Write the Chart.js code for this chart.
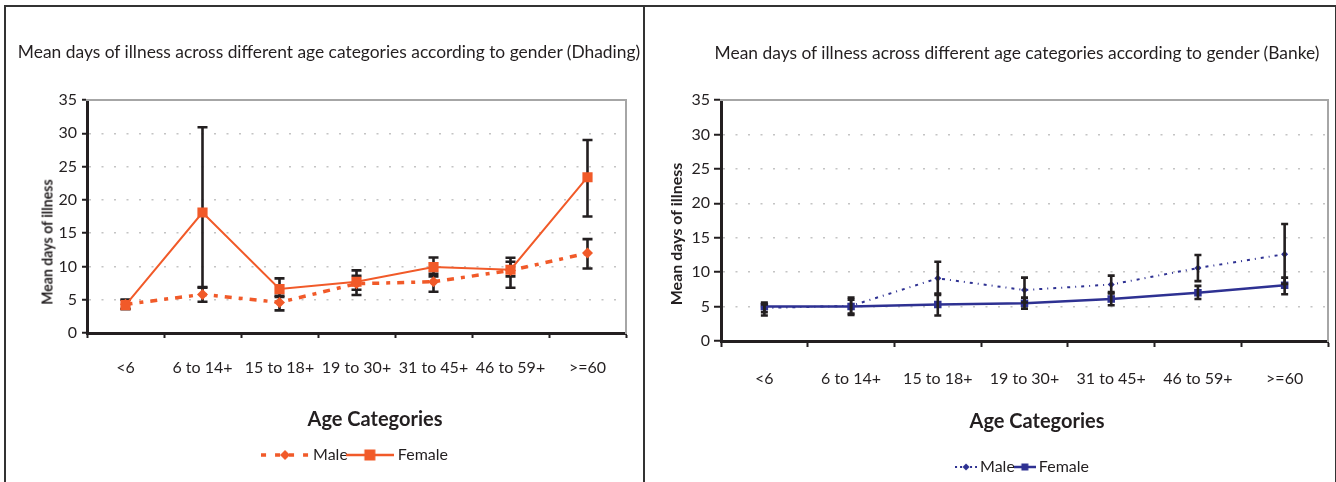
<!DOCTYPE html>
<html>
<head>
<meta charset="utf-8">
<script src="https://cdn.jsdelivr.net/npm/chart.js@4.4.1/dist/chart.umd.min.js"></script>
<style>
  html, body { margin: 0; padding: 0; background: #fff; }
  body { width: 1336px; height: 482px; position: relative; overflow: hidden;
         font-family: Lato, "Open Sans", sans-serif; color: #231f20; }
  .frame { position: absolute; left: 4px; top: 5px; width: 1329px; height: 500px;
           border: 2px solid #333; border-bottom: none; z-index: 5; pointer-events: none; }
  .divider { position: absolute; left: 643px; top: 5px; width: 2px; height: 480px;
             background: #333; z-index: 5; }
  canvas { position: absolute; top: 0; }
  .txt { position: absolute; white-space: nowrap; transform: translate(-50%, -50%); }
  .title { font-size: 17.4px; }
  .xtitle { font-size: 20px; font-weight: bold; }
  .ytitle { font-size: 16px; font-weight: bold; }
</style>
</head>
<body>
<div class="frame"></div>
<div class="divider"></div>

<canvas id="dhading" width="643" height="500" style="left:0;width:643px;height:500px"></canvas>
<canvas id="banke" width="689" height="500" style="left:645px;width:689px;height:500px"></canvas>

<div class="txt title" style="left:329px;top:51px">Mean days of illness across different age categories according to gender (Dhading)</div>
<div class="txt title" style="left:1017px;top:52px">Mean days of illness across different age categories according to gender (Banke)</div>
<div class="txt xtitle" style="left:375px;top:418px">Age Categories</div>
<div class="txt xtitle" style="left:1037px;top:420px">Age Categories</div>
<div class="txt ytitle" style="left:46px;top:242px;transform:translate(-50%,-50%) rotate(-90deg) scaleX(0.88)">Mean days of illness</div>
<div class="txt ytitle" style="left:675px;top:234px;transform:translate(-50%,-50%) rotate(-90deg)">Mean days of illness</div>

<script>
// Age groups on the x axis
const ageCategories = ['<6', '6 to 14+', '15 to 18+', '19 to 30+', '31 to 45+', '46 to 59+', '>=60'];
const yMin = 0, yMax = 35, yStep = 5;

// Dhading: mean days of illness and error-bar ends
const dhadingMale        = [4.3, 5.8, 4.6, 7.4, 7.7, 9.4, 12.0];
const dhadingMaleLow     = [3.6, 4.7, 3.4, 5.7, 6.2, 6.8, 9.7];
const dhadingMaleHigh    = [5.0, 6.9, 5.6, 8.6, 8.9, 10.7, 14.1];
const dhadingFemale      = [4.2, 18.1, 6.6, 7.7, 9.9, 9.5, 23.4];
const dhadingFemaleLow   = [3.6, 6.8, 5.4, 6.5, 8.5, 8.5, 17.5];
const dhadingFemaleHigh  = [5.0, 30.9, 8.2, 9.4, 11.35, 11.3, 29.0];

// Banke: mean days of illness and error-bar ends
const bankeMale          = [4.8, 5.1, 9.1, 7.4, 8.2, 10.6, 12.6];
const bankeMaleLow       = [3.7, 3.8, 6.7, 5.6, 6.9, 8.7, 8.3];
const bankeMaleHigh      = [5.3, 6.3, 11.5, 9.2, 9.5, 12.5, 17.0];
const bankeFemale        = [5.0, 5.0, 5.3, 5.5, 6.1, 7.0, 8.1];
const bankeFemaleLow     = [4.2, 4.0, 3.7, 4.7, 5.2, 6.1, 6.8];
const bankeFemaleHigh    = [5.6, 6.0, 6.9, 6.3, 7.1, 8.0, 9.2];

const ORANGE = '#f15a29';
const NAVY = '#2e3192';
const INK = '#231f20';
const GRID = '#c4c4c4';
const FRAME_GREY = '#a6a6a6';
const FONT = 'Lato';

// Vertical error bars with caps, placed through the chart's own scales
function errorBarPlugin(ranges, style) {
  function paint(chart) {
    const { ctx, scales: { x, y } } = chart;
    ctx.save();
    ctx.strokeStyle = style.color;
    ctx.lineWidth = style.width;
    ctx.setLineDash([]);
    ranges.forEach(r => {
      r.low.forEach((lo, i) => {
        const hi = r.high[i];
        if (lo == null || hi == null) return;
        const px = x.getPixelForValue(i);
        const yl = y.getPixelForValue(lo);
        const yh = y.getPixelForValue(hi);
        const h = style.cap / 2;
        ctx.beginPath();
        ctx.moveTo(px, yl); ctx.lineTo(px, yh);
        ctx.moveTo(px - h, yl); ctx.lineTo(px + h, yl);
        ctx.moveTo(px - h, yh); ctx.lineTo(px + h, yh);
        ctx.stroke();
      });
    });
    ctx.restore();
  }
  return {
    id: 'errorBars',
    beforeDatasetsDraw(chart) { if (!style.above) paint(chart); },
    afterDatasetsDraw(chart) { if (style.above) paint(chart); }
  };
}

// Small legend glyph: a styled line segment with the series marker in the middle
function legendGlyph(w, h, color, lineWidth, dash, marker, size) {
  const c = document.createElement('canvas');
  c.width = w; c.height = h;
  const g = c.getContext('2d');
  g.strokeStyle = color; g.fillStyle = color; g.lineWidth = lineWidth;
  g.setLineDash(dash);
  g.beginPath(); g.moveTo(0, h / 2); g.lineTo(w, h / 2); g.stroke();
  g.setLineDash([]);
  g.beginPath();
  if (marker === 'diamond') {
    g.moveTo(w / 2, h / 2 - size); g.lineTo(w / 2 + size, h / 2);
    g.lineTo(w / 2, h / 2 + size); g.lineTo(w / 2 - size, h / 2);
    g.closePath();
  } else {
    g.rect(w / 2 - size, h / 2 - size, size * 2, size * 2);
  }
  g.fill();
  return c;
}

function buildChart(canvasId, cfg) {
  const yGridColor = ctx => (ctx.tick && ctx.tick.value > yMin && ctx.tick.value < yMax) ? GRID : 'rgba(0,0,0,0)';
  return new Chart(document.getElementById(canvasId), {
    type: 'line',
    data: {
      labels: ageCategories,
      datasets: [
        {
          label: 'Male', data: cfg.male, order: 1,
          borderColor: cfg.color, backgroundColor: cfg.color,
          borderWidth: cfg.maleWidth, borderDash: cfg.maleDash,
          pointStyle: 'rectRot', pointRadius: cfg.maleRadius, pointBorderWidth: 0,
          pointBackgroundColor: cfg.color, tension: 0, fill: false
        },
        {
          label: 'Female', data: cfg.female, order: 0,
          borderColor: cfg.color, backgroundColor: cfg.color,
          borderWidth: cfg.femaleWidth,
          pointStyle: 'rect', pointRadius: cfg.femaleRadius, pointBorderWidth: 0,
          pointBackgroundColor: cfg.color, tension: 0, fill: false
        }
      ]
    },
    options: {
      responsive: false,
      animation: false,
      devicePixelRatio: 1,
      events: [],
      layout: { padding: { top: 100, left: 0, right: cfg.padRight, bottom: cfg.padBottom } },
      scales: {
        x: {
          type: 'category', offset: true,
          grid: { offset: true, drawOnChartArea: false, drawTicks: true,
                  tickLength: cfg.xTick, tickWidth: 2, tickColor: INK },
          border: { color: INK, width: 3 },
          ticks: { color: INK, font: { family: FONT, size: 16 }, padding: cfg.xPad,
                   autoSkip: false, maxRotation: 0, minRotation: 0 },
          afterFit: s => { s.height = cfg.xHeight; }
        },
        y: {
          type: 'linear', min: yMin, max: yMax,
          ticks: { stepSize: yStep, color: INK, font: { family: FONT, size: 16 }, padding: cfg.yPad },
          grid: { color: yGridColor, lineWidth: 1.5, drawTicks: true,
                  tickLength: cfg.yTick, tickWidth: 2, tickColor: INK },
          border: { color: INK, width: 3, dash: [2, 10.5] },
          afterFit: s => { s.width = cfg.yWidth; }
        },
        xTop: {
          type: 'category', position: 'top', offset: true,
          grid: { display: false, drawTicks: false }, ticks: { display: false },
          border: { color: FRAME_GREY, width: 2 },
          afterFit: s => { s.height = 0; }
        },
        yRight: {
          type: 'linear', position: 'right', min: yMin, max: yMax,
          grid: { display: false, drawTicks: false }, ticks: { display: false },
          border: { color: FRAME_GREY, width: 2 },
          afterFit: s => { s.width = 0; }
        }
      },
      plugins: {
        title: { display: false },
        tooltip: { enabled: false },
        legend: {
          position: 'bottom', fullSize: false, align: 'center',
          labels: {
            usePointStyle: true, pointStyleWidth: cfg.legendBox, padding: cfg.legendPad,
            color: INK, font: { family: FONT, size: 16 },
            generateLabels: () => [
              { text: 'Male', pointStyle: cfg.maleGlyph, fillStyle: cfg.color, strokeStyle: cfg.color,
                lineWidth: 0, hidden: false, datasetIndex: 0, fontColor: INK },
              { text: 'Female', pointStyle: cfg.femaleGlyph, fillStyle: cfg.color, strokeStyle: cfg.color,
                lineWidth: 0, hidden: false, datasetIndex: 1, fontColor: INK }
            ]
          }
        }
      }
    },
    plugins: [errorBarPlugin(
      [{ low: cfg.maleLow, high: cfg.maleHigh }, { low: cfg.femaleLow, high: cfg.femaleHigh }],
      { color: INK, width: cfg.barWidth, cap: cfg.cap, above: cfg.barsAbove }
    )]
  });
}

buildChart('dhading', {
  male: dhadingMale, female: dhadingFemale,
  maleLow: dhadingMaleLow, maleHigh: dhadingMaleHigh,
  femaleLow: dhadingFemaleLow, femaleHigh: dhadingFemaleHigh,
  color: ORANGE, maleWidth: 3.5, maleDash: [7, 7, 4, 7], femaleWidth: 2,
  maleRadius: 5.5, femaleRadius: 7.2,
  padRight: 17, padBottom: 27, xHeight: 112, xTick: 5, xPad: 20,
  yWidth: 87, yTick: 5, yPad: 5,
  legendBox: 40, legendPad: 2,
  maleGlyph: legendGlyph(48, 14, ORANGE, 3.5, [5, 9], 'diamond', 5),
  femaleGlyph: legendGlyph(48, 14, ORANGE, 2.5, [], 'square', 5.5),
  barWidth: 2.6, cap: 10, barsAbove: false
});

buildChart('banke', {
  male: bankeMale, female: bankeFemale,
  maleLow: bankeMaleLow, maleHigh: bankeMaleHigh,
  femaleLow: bankeFemaleLow, femaleHigh: bankeFemaleHigh,
  color: NAVY, maleWidth: 2, maleDash: [3, 5, 1, 5], femaleWidth: 2.5,
  maleRadius: 3.5, femaleRadius: 5.3,
  padRight: 6, padBottom: 15, xHeight: 114, xTick: 6, xPad: 22,
  yWidth: 76, yTick: 7, yPad: 4,
  legendBox: 12, legendPad: 4,
  maleGlyph: legendGlyph(22, 10, NAVY, 2, [2, 3], 'diamond', 3.5),
  femaleGlyph: legendGlyph(22, 10, NAVY, 2.5, [], 'square', 3.5),
  barWidth: 2.6, cap: 7, barsAbove: true
});
</script>
</body>
</html>
